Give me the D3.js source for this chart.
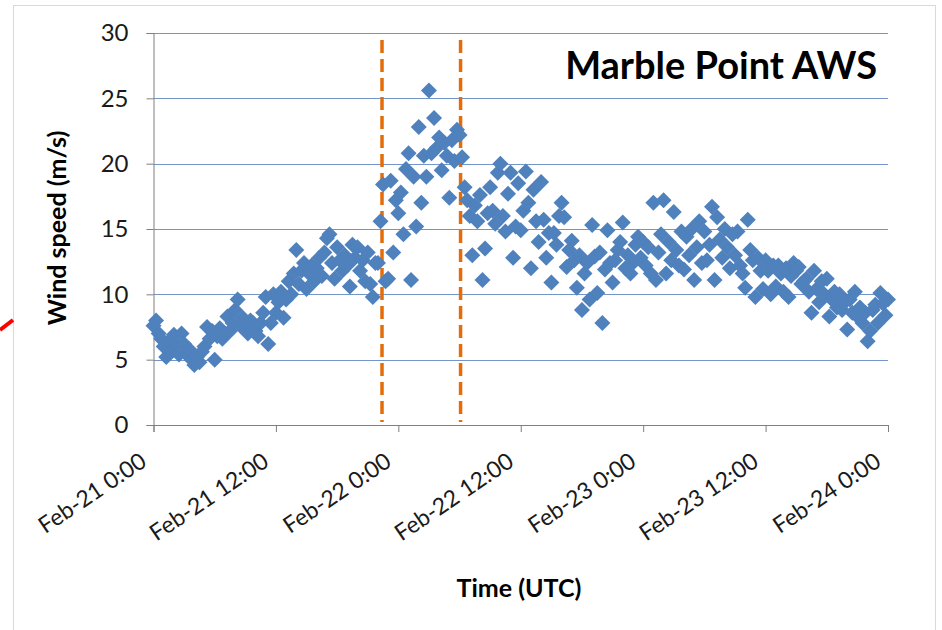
<!DOCTYPE html>
<html><head><meta charset="utf-8">
<script src="https://cdn.jsdelivr.net/npm/d3@7"></script>
<style>
html,body{margin:0;padding:0;background:#fff;}
svg{display:block;}
text{font-family:Lato,"Open Sans",sans-serif;}
</style></head>
<body>
<svg id="chart" width="942" height="630"></svg>
<script>
// ---- data ----
const title = "Marble Point AWS";
const xTitle = "Time (UTC)";
const yTitle = "Wind speed (m/s)";
const tickHours = [0, 12, 24, 36, 48, 60, 72];
const tickLabels = ["Feb-21 0:00", "Feb-21 12:00", "Feb-22 0:00", "Feb-22 12:00", "Feb-23 0:00", "Feb-23 12:00", "Feb-24 0:00"];
const yTicks = [0, 5, 10, 15, 20, 25, 30];
const eventHours = [22.4, 30.1];
const stepHours = 0.25; // one observation every 15 min

const wind21am = [7.6,8.0,7.0,6.6, 6.0,5.2,6.4,5.6, 6.9,6.2,5.4,7.0, 6.2,5.4,5.8,5.0, 4.6,5.2,4.8,5.6, 6.0,7.5,6.6,7.2,
  5.0,6.8,7.4,6.6, 7.0,8.3,7.2,7.8, 8.8,9.6,7.6,8.2, 7.4,7.0,8.0,7.8, 7.2,6.8,7.8,8.6, 9.8,6.2,7.8,10.0];
const wind21pm = [8.6,9.4,10.2,8.2, 9.6,11.0,10.0,11.6, 13.4,10.8,11.8,12.4, 10.4,11.6,12.2,11.0, 12.0,12.8,11.4,13.2, 14.3,14.6,12.4,11.2,
  13.6,12.6,11.8,13.0, 12.2,10.6,13.8,12.8, 13.6,11.8,12.6,11.0, 13.2,10.8,9.8,12.4, 12.4,15.6,18.4,11.0, 11.2,18.7,13.2,17.2];
const wind22am = [16.2,17.8,14.6,19.6, 20.8,11.1,19.0,15.2, 22.8,17.0,20.6,19.0, 25.6,20.8,23.5,21.2, 22.0,19.5,21.6,20.6, 17.4,21.8,20.2,22.6,
  22.2,20.5,18.2,17.2, 16.0,13.0,16.8,15.6, 17.6,11.1,13.5,16.2, 18.2,16.4,15.4,19.3, 20.0,16.0,14.8,17.7, 19.3,12.8,15.2,18.5];
const wind22pm = [14.9,16.4,19.4,17.0, 12.0,18.0,15.6,14.0, 18.6,15.7,12.8,14.7, 10.9,14.7,13.8,16.0, 17.0,15.9,12.1,13.4, 14.1,12.6,10.5,13.0,
  8.8,11.6,12.4,9.6, 15.3,12.9,10.1,13.2, 7.8,11.9,14.9,12.4, 10.9,12.6,13.4,14.0, 15.5,12.0,13.0,11.6, 12.4,13.8,14.4,12.8];
const wind23am = [14.0,12.2,13.6,11.6, 17.0,11.1,13.2,14.6, 17.2,11.6,14.0,12.6, 16.3,13.4,12.2,14.8, 11.9,14.4,13.0,15.0, 11.1,13.6,15.6,12.4,
  14.8,12.6,13.8,16.7, 11.1,15.9,14.2,12.8, 15.0,13.6,12.0,14.6, 13.0,14.8,12.2,11.6, 10.5,15.7,13.4,12.6, 9.8,12.8,11.8,10.4];
const wind23pm = [12.6,11.8,10.0,12.2, 10.6,12.2,11.6,10.2, 12.0,9.8,11.4,12.4, 11.8,12.1,10.8,11.0, 11.2,10.2,8.6,11.8, 10.4,9.4,11.0,10.0,
  11.2,8.3,9.6,10.2, 9.0,10.0,8.8,9.4, 7.3,9.6,8.6,10.2, 8.3,9.0,7.8,8.6, 6.4,7.2,8.8,9.2, 7.8,10.1,9.3,8.4, 9.6];

(function () {
const windAll = [].concat(wind21am, wind21pm, wind22am, wind22pm, wind23am, wind23pm);
const points = windAll.map((v, i) => ({h: i * stepHours, v: v}));

// ---- layout ----
const svg = d3.select("#chart");
const pL = 153.5, pR = 888, pT = 33, pB = 425;

// outer frame
svg.append("rect").attr("x", 13.5).attr("y", 5.5).attr("width", 922).attr("height", 700)
  .attr("fill", "#fff").attr("stroke", "#d9d9d9").attr("stroke-width", 1);

const x = d3.scaleLinear().domain([0, 72]).range([pL, pR]);
const y = d3.scaleLinear().domain([0, 30]).range([pB, pT]);

// gridlines
svg.append("g").selectAll("line").data(yTicks.filter(t => t > 0)).join("line")
  .attr("x1", pL).attr("x2", pR)
  .attr("y1", d => Math.round(y(d)) + 0.5).attr("y2", d => Math.round(y(d)) + 0.5)
  .attr("stroke", "#7395c9").attr("stroke-width", 1);

// y axis
const yAxis = d3.axisLeft(y).tickValues(yTicks).tickSize(7).tickPadding(18).tickFormat(d3.format("d"));
const gy = svg.append("g").attr("transform", `translate(${pL},0)`).call(yAxis);
gy.select(".domain").attr("stroke", "#7f7f7f");
gy.selectAll(".tick line").attr("stroke", "#7f7f7f");
gy.selectAll(".tick text").attr("font-size", 24).attr("fill", "#1a1a1a").attr("font-family", "Lato");

// x axis
const xAxis = d3.axisBottom(x).tickValues(tickHours).tickSize(7).tickFormat((d, i) => tickLabels[i]);
const gx = svg.append("g").attr("transform", `translate(0,${pB})`).call(xAxis);
gx.select(".domain").attr("stroke", "#7f7f7f");
gx.selectAll(".tick line").attr("stroke", "#7f7f7f");
gx.selectAll(".tick text").attr("font-size", 23).attr("fill", "#1a1a1a").attr("font-family", "Lato")
  .attr("text-anchor", "end").attr("dy", 0).attr("y", 0)
  .attr("transform", "translate(-6,40) rotate(-34)");

// event lines
svg.append("g").selectAll("line").data(eventHours).join("line")
  .attr("x1", d => x(d)).attr("x2", d => x(d))
  .attr("y1", 40).attr("y2", 422)
  .attr("stroke", "#e46c0a").attr("stroke-width", 3.5).attr("stroke-dasharray", "13,6");

// points
const diamond = d3.symbol().type(d3.symbolSquare).size(128);
svg.append("g").selectAll("path").data(points).join("path")
  .attr("d", diamond)
  .attr("transform", d => `translate(${x(d.h)},${y(d.v)}) rotate(45)`)
  .attr("fill", "#4f81bd");

// titles
svg.append("text").attr("x", 877).attr("y", 79).attr("text-anchor", "end")
  .attr("font-size", 38).attr("font-weight", "bold").attr("fill", "#000").text(title);
svg.append("text").attr("x", 519).attr("y", 597).attr("text-anchor", "middle")
  .attr("font-size", 25).attr("font-weight", "bold").attr("fill", "#000").text(xTitle);
svg.append("text").attr("transform", "translate(66,228) rotate(-90)").attr("text-anchor", "middle")
  .attr("font-size", 25).attr("font-weight", "bold").attr("fill", "#000").text(yTitle);

// red annotation stroke at left edge
svg.append("line").attr("x1", 0).attr("y1", 330).attr("x2", 13).attr("y2", 320)
  .attr("stroke", "#ff0000").attr("stroke-width", 4);
})();
</script>
</body></html>
